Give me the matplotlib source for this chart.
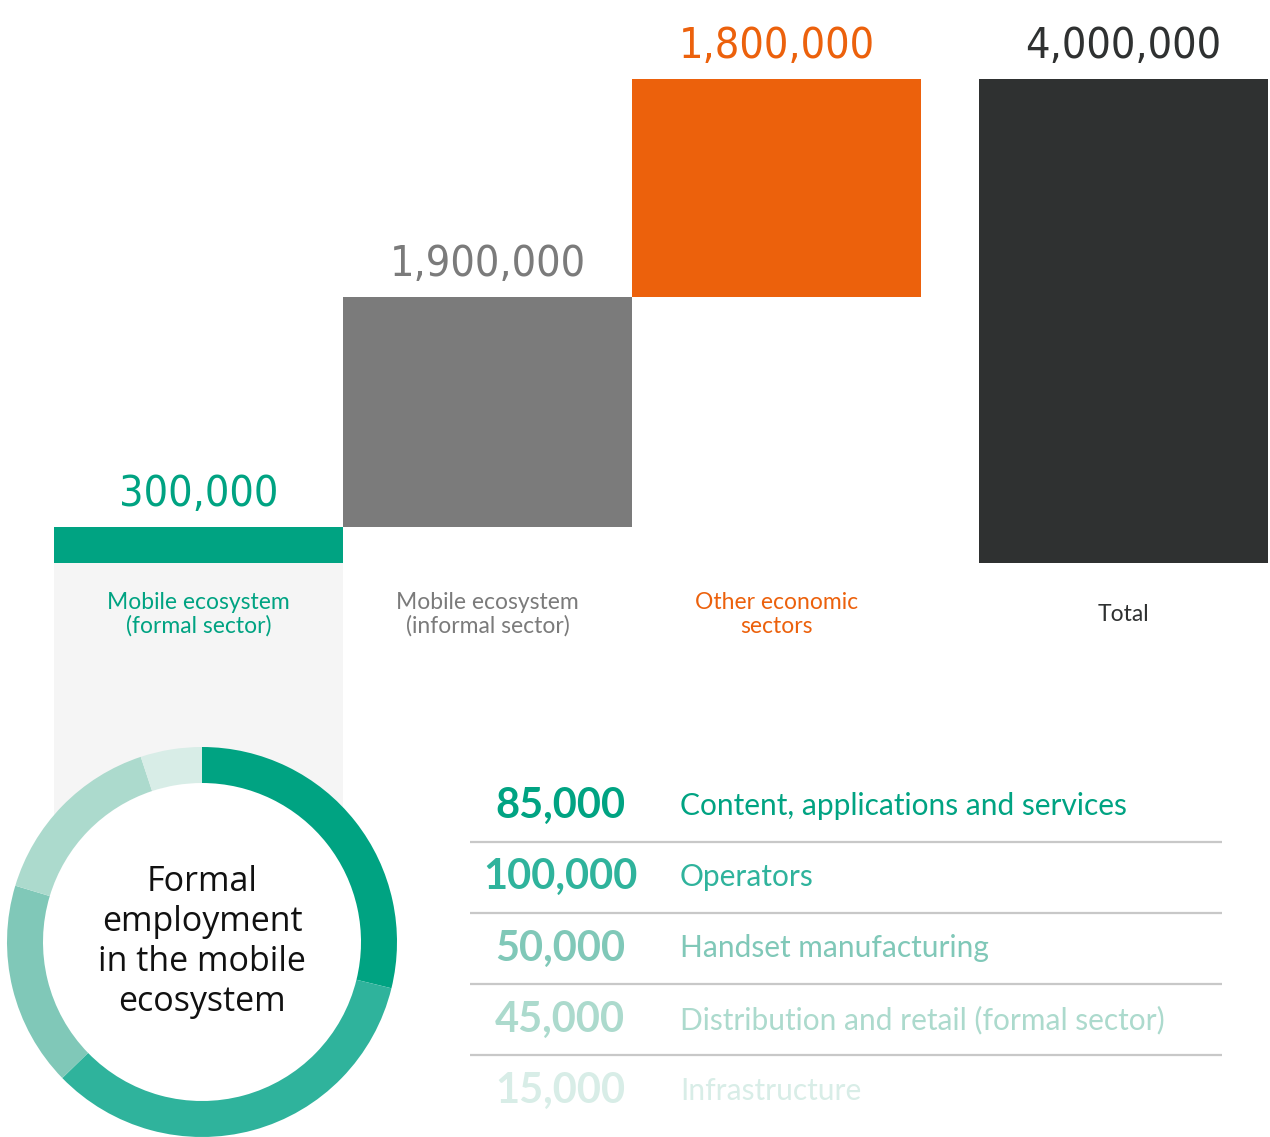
import matplotlib
matplotlib.use("Agg")
import matplotlib.pyplot as plt
from matplotlib.patches import Circle

# ── Data ─────────────────────────────────────────────────────────────
categories   = ["Mobile ecosystem\n(formal sector)",
                "Mobile ecosystem\n(informal sector)",
                "Other economic\nsectors",
                "Total"]
step_values  = [300000, 1900000, 1800000]
total_value  = sum(step_values)
bar_colors   = ["#00a382", "#7b7b7b", "#ec610c", "#2f3131"]
label_colors = ["#00a382", "#7b7b7b", "#ec610c", "#2f3131"]

segments     = ["Content, applications and services",
                "Operators",
                "Handset manufacturing",
                "Distribution and retail (formal sector)",
                "Infrastructure"]
seg_values   = [85000, 100000, 50000, 45000, 15000]
seg_colors   = ["#00a382", "#2fb39c", "#80c8b8", "#acdacd", "#d8ede7"]

center_text  = "Formal\nemployment\nin the mobile\necosystem"

W, H = 1270, 1137
fig = plt.figure(figsize=(W / 100, H / 100), dpi=100)
fig.patch.set_facecolor("white")

num_font = ["DejaVu Sans", "Liberation Sans"]
txt_font = ["Lato", "DejaVu Sans"]

# ── Waterfall ────────────────────────────────────────────────────────
px_top, px_zero, px_bottom = 79, 563, 940
ax = fig.add_axes([54 / W, (H - px_bottom) / H, 1214 / W, (px_bottom - px_top) / H])
ax.set_xlim(-0.5, 3.7)
ymin = -(px_bottom - px_zero) / (px_zero - px_top) * total_value
ax.set_ylim(ymin, total_value)
ax.axis("off")

positions = [0, 1, 2, 3.2]
bottoms   = [0, step_values[0], step_values[0] + step_values[1], 0]
heights   = step_values + [total_value]
ax.bar(positions, heights, bottom=bottoms, width=1.0, color=bar_colors,
       linewidth=0, zorder=2)

# light panel under the first bar
zero_frac = (0 - ymin) / (total_value - ymin)
ax.axvspan(-0.5, 0.5, ymin=0, ymax=zero_frac, color="#f5f5f5", lw=0, zorder=1)

for x, b, h, c in zip(positions, bottoms, heights, label_colors):
    ax.annotate(f"{h:,}", xy=(x, b + h), xytext=(0, 15), textcoords="offset points",
                ha="center", va="baseline", fontsize=31, color=c,
                family=num_font, stretch="condensed", fontweight="light")

for x, lab, c in zip(positions, categories, label_colors):
    ax.annotate(lab, xy=(x, 0), xytext=(0, -37), textcoords="offset points",
                ha="center", va="center", fontsize=16.5, color=c,
                family=txt_font, linespacing=1.15)

# ── Donut ────────────────────────────────────────────────────────────
cx, cy, r_out, r_in = 202, 942, 195, 159
box = 420
axd = fig.add_axes([(cx - box / 2) / W, (H - cy - box / 2) / H, box / W, box / H])
axd.pie(seg_values, colors=seg_colors, startangle=90, counterclock=False,
        wedgeprops=dict(width=(r_out - r_in) / r_out, linewidth=0))
lim = box / 2 / r_out
axd.set_xlim(-lim, lim)
axd.set_ylim(-lim, lim)
axd.add_patch(Circle((0, 0), r_in / r_out, color="white", zorder=0))
axd.text(0, 0, center_text, ha="center", va="center", fontsize=24.5,
         family=["Open Sans", "DejaVu Sans"], color="#111111", linespacing=1.22)

# ── Breakdown table ──────────────────────────────────────────────────
row_h = 71.25
t_top = 806 - row_h / 2
t_bot = t_top + row_h * len(segments)
axt = fig.add_axes([470 / W, (H - t_bot) / H, 752 / W, (t_bot - t_top) / H])
axt.set_xlim(0, 1)
axt.set_ylim(len(segments) - 0.5, -0.5)
axt.axis("off")

for i, (val, lab, c) in enumerate(zip(seg_values, segments, seg_colors)):
    axt.text(0.12, i, f"{val:,}", ha="center", va="center", fontsize=30,
             fontweight="bold", color=c, family=txt_font)
    axt.text(0.279, i, lab, ha="left", va="center", fontsize=21.5,
             color=c, family=txt_font)

axt.hlines([i + 0.5 for i in range(len(segments) - 1)], 0, 1,
           color="#c8c8c8", linewidth=1.6)

plt.savefig("out.png", dpi=100)
